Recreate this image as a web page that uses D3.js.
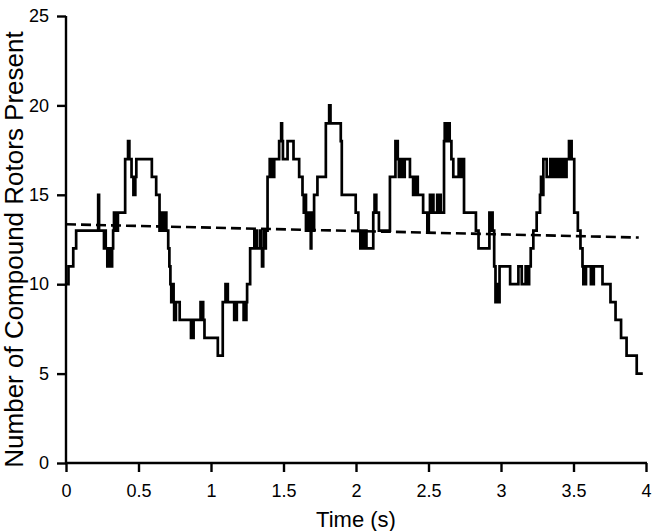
<!DOCTYPE html>
<html>
<head>
<meta charset="utf-8">
<script src="https://cdn.jsdelivr.net/npm/d3@7"></script>
<style>
html,body{margin:0;padding:0;background:#fff;}
svg{display:block;}
text{font-family:"Liberation Sans",Arial,Helvetica,sans-serif;fill:#000;}
</style>
</head>
<body>
<svg id="chart" width="652" height="531"></svg>
<script>
// Time points (s) where the count changes (step-after)
const times = [
0.000,0.017,0.050,0.070,0.222,0.228,0.262,0.268,0.274,0.285,0.291,0.297,0.304,0.310,0.318,0.325,0.331,0.337,0.344,0.351,0.358,
0.408,0.428,0.437,0.452,0.465,0.478,0.485,0.592,0.622,0.645,0.652,0.660,0.668,0.676,0.684,0.692,0.705,0.713,0.720,0.726,0.730,
0.734,0.738,0.742,0.746,0.750,0.754,0.758,0.784,0.862,0.868,0.874,0.880,0.928,0.936,0.940,0.946,0.955,1.047,1.081,1.100,1.108,
1.112,1.116,1.160,1.166,1.172,1.178,1.225,1.232,1.238,1.244,1.249,1.270,1.299,1.306,1.312,1.318,1.340,1.346,1.352,1.360,1.366,
1.372,1.378,1.390,1.405,1.410,1.418,1.424,1.436,1.470,1.484,1.490,1.496,1.528,1.569,1.608,1.631,1.640,1.648,1.655,1.662,1.668,
1.675,1.682,1.688,1.692,1.698,1.704,1.711,1.734,1.792,1.815,1.824,1.895,1.902,1.998,2.016,2.030,2.036,2.042,2.050,2.058,2.064,
2.072,2.119,2.128,2.140,2.158,2.234,2.272,2.288,2.296,2.304,2.312,2.320,2.328,2.336,2.372,2.394,2.402,2.410,2.418,2.426,2.463,
2.492,2.502,2.510,2.518,2.526,2.534,2.560,2.568,2.576,2.584,2.607,2.612,2.620,2.626,2.634,2.640,2.646,2.658,2.671,2.708,2.715,
2.722,2.730,2.736,2.745,2.827,2.845,2.920,2.928,2.934,2.942,2.953,2.962,2.975,2.982,2.990,3.063,3.120,3.143,3.170,3.176,3.182,
3.188,3.194,3.205,3.223,3.246,3.269,3.276,3.282,3.292,3.315,3.340,3.348,3.356,3.364,3.372,3.380,3.388,3.396,3.404,3.412,3.420,
3.428,3.436,3.444,3.452,3.469,3.487,3.505,3.530,3.548,3.562,3.568,3.574,3.580,3.586,3.620,3.628,3.634,3.640,3.700,3.755,3.790,
3.828,3.866,3.936,3.978
];
// Number of compound rotors present at each time point
const counts = [
10,11,12,13,15,13,12,13,12,11,12,11,12,11,12,13,14,13,14,13,14,
17,18,17,16,15,16,17,16,15,13,14,13,14,13,14,13,12,11,10,9,10,
9,10,9,8,9,8,9,8,7,8,7,8,9,8,9,8,7,6,9,10,9,
10,9,8,9,8,9,8,9,8,9,10,12,13,12,13,12,13,12,11,12,13,
12,13,16,17,16,17,16,17,18,19,18,17,18,17,16,15,14,15,13,14,13,
14,13,12,13,14,13,15,16,19,20,19,18,15,14,13,12,13,12,13,12,13,
12,14,15,14,13,16,18,17,16,17,16,17,16,17,16,15,16,15,16,15,14,
13,14,15,14,15,14,15,14,15,14,18,19,18,19,18,19,18,17,16,17,16,
17,16,17,14,13,12,14,13,14,13,11,9,10,9,11,10,11,10,11,10,11,
10,11,12,13,14,15,16,15,17,16,17,16,17,16,17,16,17,16,17,16,17,
16,17,16,17,18,17,14,13,12,11,10,11,10,11,10,11,10,11,10,9,8,
7,6,5,5
];
// Linear trend (dashed line)
const trendTimes = [0, 3.95];
const trendCounts = [13.35, 12.61];

const xTicks = [0, 0.5, 1, 1.5, 2, 2.5, 3, 3.5, 4];
const xTickLabels = ["0", "0.5", "1", "1.5", "2", "2.5", "3", "3.5", "4"];
const yTicks = [0, 5, 10, 15, 20, 25];
const yTickLabels = ["0", "5", "10", "15", "20", "25"];
const xTitle = "Time (s)";
const yTitle = "Number of Compound Rotors Present";

const svg = d3.select("#chart");
const mLeft = 66, mRight = 646, mTop = 16, mBottom = 463;

const x = d3.scaleLinear().domain([0, 4]).range([mLeft, mRight]);
const y = d3.scaleLinear().domain([0, 25]).range([mBottom, mTop]);

const n = Math.min(times.length, counts.length);
const series = times.slice(0, n).map((t, i) => ({t: t, v: counts[i]}));
const trend = trendTimes.map((t, i) => ({t: t, v: trendCounts[i]}));

// Axes
const xAxis = d3.axisBottom(x).tickValues(xTicks)
  .tickFormat((d, i) => xTickLabels[i]).tickSizeInner(9).tickSizeOuter(0).tickPadding(12);
const yAxis = d3.axisLeft(y).tickValues(yTicks)
  .tickFormat((d, i) => yTickLabels[i]).tickSizeInner(9).tickSizeOuter(0).tickPadding(8);

const gx = svg.append("g").attr("transform", `translate(0,${mBottom})`).call(xAxis);
const gy = svg.append("g").attr("transform", `translate(${mLeft},0)`).call(yAxis);
[gx, gy].forEach(g => {
  g.select(".domain").attr("stroke", "#000").attr("stroke-width", 2.4);
  g.selectAll(".tick line").attr("stroke", "#000").attr("stroke-width", 2.4);
  g.selectAll(".tick text").attr("font-size", 18).attr("fill", "#000")
    .attr("font-family", '"Liberation Sans", Arial, sans-serif');
});
gx.select(".domain").attr("d", `M${mLeft-1},0H${mRight+1}`);
gy.select(".domain").attr("d", `M0,${mBottom+1}V${mTop}`);

// Trend dashed line
svg.append("path")
  .datum(trend)
  .attr("fill", "none")
  .attr("stroke", "#000")
  .attr("stroke-width", 2.6)
  .attr("stroke-dasharray", "10,5")
  .attr("d", d3.line().x(d => x(d.t)).y(d => y(d.v)));

// Step series
svg.append("path")
  .datum(series)
  .attr("fill", "none")
  .attr("stroke", "#000")
  .attr("stroke-width", 2.7)
  .attr("stroke-linejoin", "miter")
  .attr("d", d3.line().x(d => x(d.t)).y(d => y(d.v)).curve(d3.curveStepAfter));

// Titles
svg.append("text")
  .attr("x", (mLeft + mRight) / 2)
  .attr("y", 527)
  .attr("text-anchor", "middle")
  .attr("font-size", 22)
  .text(xTitle);

svg.append("text")
  .attr("transform", `translate(23,${(mTop + mBottom) / 2 + 10}) rotate(-90)`)
  .attr("text-anchor", "middle")
  .attr("font-size", 26)
  .text(yTitle);
</script>
</body>
</html>
